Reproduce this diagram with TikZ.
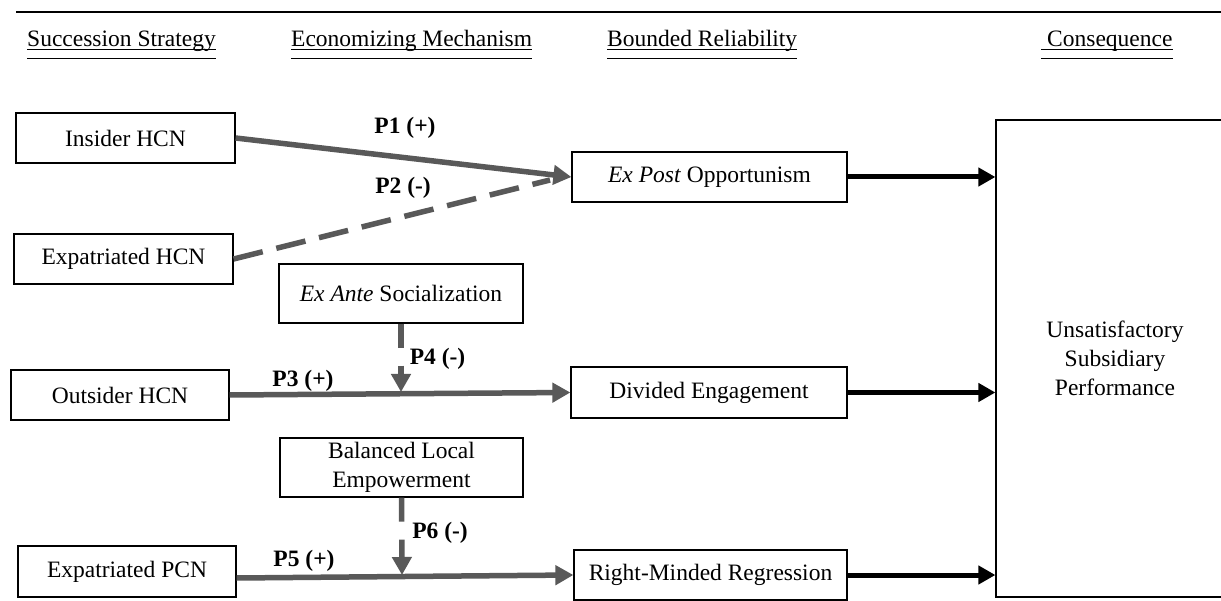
\documentclass[tikz,border=0pt]{standalone}
\usepackage{fontspec}
\setmainfont{Liberation Serif}
\usetikzlibrary{arrows.meta,calc}
\definecolor{arrowgray}{RGB}{89,89,89}
\begin{document}
\begin{tikzpicture}[x=1pt,y=-1pt,
  txt/.style={font=\fontsize{23.5}{29}\selectfont},
  box/.style={txt,draw=black,line width=1.2pt,inner sep=0pt,align=center},
  head/.style={txt,inner sep=0pt,anchor=base west},
  plabel/.style={font=\fontsize{23.5}{29}\selectfont\bfseries,inner sep=0pt},
  garrow/.style={draw=arrowgray,line width=5.5pt,-{Triangle[length=18pt,width=19pt]}},
  gdash/.style={draw=arrowgray,line width=5.5pt,dash pattern=on 30pt off 14pt},
  vdash/.style={dash pattern=on 24pt off 18pt},
  barrow/.style={draw=black,line width=5pt,-{Triangle[length=17pt,width=18pt]}},
]
\useasboundingbox (0,0) rectangle (1221,601);
\fill[white] (0,0) rectangle (1221,601);

% top rule
\draw[line width=2.5pt] (16,12) -- (1221,12);

% headings
\node[head] (h1) at (27,46.5) {Succession Strategy};
\node[head] (h2) at (291,46.5) {Economizing Mechanism};
\node[head] (h3) at (607,46.5) {Bounded Reliability};
\node[head] (h4) at (1047,46.5) {Consequence};
\foreach \h in {h1,h2,h3}{
  \draw[line width=1pt] ([yshift=-3.5]\h.base west) -- ([yshift=-3.5]\h.base east);
  \draw[line width=1.8pt] ([yshift=-12]\h.base west) -- ([yshift=-12]\h.base east);
}
\draw[line width=1pt] ([xshift=-6,yshift=-3.5]h4.base west) -- ([yshift=-3.5]h4.base east);
\draw[line width=1.8pt] ([xshift=-6,yshift=-12]h4.base west) -- ([yshift=-12]h4.base east);

% left column
\node[box,minimum width=219,minimum height=50] (ins) at (125.5,138) {Insider HCN};
\node[box,minimum width=219,minimum height=50] (exh) at (123.5,259) {Expatriated HCN};
\node[box,minimum width=218,minimum height=50] (out) at (120,395) {Outsider HCN};
\node[box,minimum width=218,minimum height=51] (exp) at (127,571.5) {Expatriated PCN};

% moderators
\node[box,minimum width=244,minimum height=59] (exante) at (401,293.5) {\textit{Ex Ante} Socialization};
\node[box,minimum width=243,minimum height=59] (bal) at (401.5,467.5) {Balanced Local\\Empowerment};

% bounded reliability
\node[box,minimum width=275,minimum height=50] (expost) at (709.5,177) {\textit{Ex Post} Opportunism};
\node[box,minimum width=276,minimum height=51] (div) at (709,392.5) {Divided Engagement};
\node[box,minimum width=273,minimum height=50] (rmr) at (710.5,575) {Right-Minded Regression};

% consequence
\node[box,minimum width=238,minimum height=477] (uns) at (1115,358.5) {Unsatisfactory\\Subsidiary\\Performance};

% labels
\node[plabel] (l1) at (405,128) {P1 (+)};
\node[plabel] (l2) at (403,188) {P2 (-)};
\node[plabel] (l3) at (303,381) {P3 (+)};
\node[plabel] (l4) at (437.5,359) {P4 (-)};
\node[plabel] (l5) at (304,561) {P5 (+)};
\node[plabel] (l6) at (440,533) {P6 (-)};

% connectors
\coordinate (p2end) at (550,180);
\coordinate (m1) at (401,392);
\coordinate (m2) at (402,575);
\draw[garrow] (ins.east) -- (expost.west);
\draw[gdash] (exh.east) -- (p2end);
\draw[garrow] (out.east) -- (div.west);
\draw[garrow,vdash] (exante.south) -- (m1);
\draw[garrow] ($(exp.east)+(0,6.5)$) -- (rmr.west);
\draw[garrow,vdash] (bal.south) -- (m2);
\draw[barrow] (expost.east) -- (expost.east -| uns.west);
\draw[barrow] (div.east) -- (div.east -| uns.west);
\draw[barrow] (rmr.east) -- (rmr.east -| uns.west);
\end{tikzpicture}
\end{document}
